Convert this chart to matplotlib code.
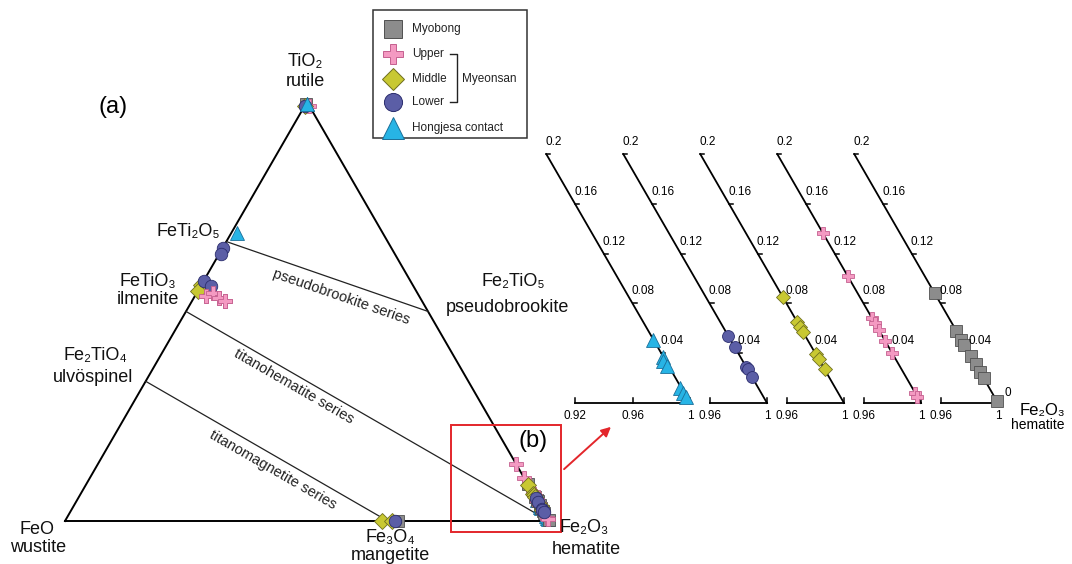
import numpy as np
import matplotlib
matplotlib.use("Agg")
import matplotlib.pyplot as plt
from matplotlib.patches import Rectangle

plt.rcParams['font.family'] = ['Liberation Sans', 'DejaVu Sans']

W, H = 1072, 564
H3 = np.sqrt(3) / 2
PT = 0.72  # points per pixel at 100 dpi

# mole fractions (Fe2O3 = 1 - FeO - TiO2)
myobong_feo = [0.005, 0.312, 0, 0, 0, 0, 0, 0, 0, 0, 0]
myobong_tio2 = [0.995, 0.0, 0.088, 0.058, 0.051, 0.047, 0.038, 0.031, 0.025, 0.020, 0.002]
upper_feo = [0.0, 0.440, 0.422, 0.416, 0.407, 0, 0, 0, 0, 0, 0, 0, 0, 0]
upper_tio2 = [0.990, 0.537, 0.544, 0.532, 0.525, 0.137, 0.102, 0.068, 0.064, 0.059, 0.050, 0.040, 0.008, 0.005]
middle_feo = [0.010, 0.437, 0.451, 0.345, 0.324, 0, 0, 0, 0, 0, 0, 0]
middle_tio2 = [0.990, 0.563, 0.549, 0.0, 0.0, 0.085, 0.065, 0.061, 0.057, 0.039, 0.035, 0.027]
lower_feo = [0.010, 0.348, 0.359, 0.427, 0.418, 0.318, 0, 0, 0, 0, 0]
lower_tio2 = [0.990, 0.652, 0.637, 0.573, 0.561, 0.0, 0.054, 0.045, 0.029, 0.027, 0.021]
hong_feo = [0.003, 0.301, 0.0, 0.0, 0.002, 0.001, 0.001, 0.001, 0.0]
hong_tio2 = [0.995, 0.687, 0.051, 0.037, 0.034, 0.030, 0.012, 0.008, 0.005]

# end members (FeO, TiO2)
endmembers = {
    "FeTi2O5": (1 / 3, 2 / 3),
    "FeTiO3": (0.5, 0.5),
    "Fe2TiO4": (2 / 3, 1 / 3),
    "Fe3O4": (1 / 3, 0.0),
    "Fe2TiO5": (0.0, 0.5),
    "Fe2O3": (0.0, 0.0),
}
series = [("FeTi2O5", "Fe2TiO5"), ("FeTiO3", "Fe2O3"), ("Fe2TiO4", "Fe3O4")]

panel_ticks = [0.04, 0.08, 0.12, 0.16, 0.2]

styles = {
    "Myobong": dict(marker="s", mfc="#8c8c8c", mec="#505050", ms=8.5),
    "Upper": dict(marker="P", mfc="#f49ac2", mec="#c4608f", ms=9.5),
    "Middle": dict(marker="D", mfc="#c8c832", mec="#6e6e1e", ms=8),
    "Lower": dict(marker="o", mfc="#5b5ea6", mec="#2b2d6e", ms=9),
    "Hongjesa contact": dict(marker="^", mfc="#27b4e5", mec="#1b6f99", ms=10.5),
}
# drawing order in the main diagram (first = bottom)
data = {
    "Hongjesa contact": (hong_feo, hong_tio2),
    "Myobong": (myobong_feo, myobong_tio2),
    "Upper": (upper_feo, upper_tio2),
    "Middle": (middle_feo, middle_tio2),
    "Lower": (lower_feo, lower_tio2),
}


def tern(feo, tio2):
    feo = np.asarray(feo, float)
    tio2 = np.asarray(tio2, float)
    fe2o3 = 1 - feo - tio2
    return fe2o3 + tio2 / 2, tio2 * H3


def overlay(fig, scale, ox, oy):
    # axes over the whole figure, unit = `scale` px, origin at pixel (ox, oy)
    ax = fig.add_axes([0, 0, 1, 1])
    ax.set_xlim(-ox / scale, (W - ox) / scale)
    ax.set_ylim(-(H - oy) / scale, oy / scale)
    ax.axis("off")
    ax.patch.set_alpha(0)
    return ax


fig = plt.figure(figsize=(W / 100, H / 100), dpi=100)

# ---- (a) main ternary ----
S = 484
ax = overlay(fig, S, 65, 521)
ax.plot([0, 1, 0.5, 0], [0, 0, H3, 0], color="black", lw=1.4, solid_joinstyle="miter")
for a, b in series:
    x, y = tern([endmembers[a][0], endmembers[b][0]], [endmembers[a][1], endmembers[b][1]])
    ax.plot(x, y, color="#222222", lw=0.9)
for name, (feo, tio2) in data.items():
    x, y = tern(feo, tio2)
    ax.plot(x, y, ls="none", mew=0.6, clip_on=False, **styles[name])
# ilmenite-area crosses and rutile-corner triangle sit on top
x, y = tern(upper_feo[1:5], upper_tio2[1:5])
ax.plot(x, y, ls="none", mew=0.6, clip_on=False, **styles["Upper"])
x, y = tern(hong_feo[:1], hong_tio2[:1])
ax.plot(x, y, ls="none", mew=0.6, clip_on=False, **styles["Hongjesa contact"])

# ---- (b) enlarged Fe2O3 corner panels ----
P = 1437
panel_order = ["Hongjesa contact", "Lower", "Middle", "Upper", "Myobong"]
panel_x = [690, 767, 844, 921, 998]
for i, (name, cx) in enumerate(zip(panel_order, panel_x)):
    pax = overlay(fig, P, cx - P, 403)
    pax.plot([0.9, 1.0], [0.2 * H3, 0], color="black", lw=1.3)
    for t in panel_ticks:
        tx, ty = tern(0, t)
        pax.plot([tx, tx + 4 / P], [ty, ty], color="black", lw=1.1)
        pax.annotate(f"{t:g}", (tx, ty), xytext=(-1 * PT, 12 * PT), textcoords="offset points",
                     ha="left", va="center", fontsize=8.5)
    xmin = 0.92 if i == 0 else 0.96
    pax.plot([xmin, 1.0], [0, 0], color="black", lw=1.3)
    bticks = [0.92, 0.96, 1.0] if i == 0 else [0.96, 1.0]
    for t in bticks:
        pax.plot([t, t], [0, 5 / P], color="black", lw=1.1)
        pax.annotate(f"{t:g}", (t, 0), xytext=(0, -13 * PT), textcoords="offset points",
                     ha="center", va="center", fontsize=8.5)
    feo, tio2 = data[name]
    feo = np.asarray(feo)
    tio2 = np.asarray(tio2)
    keep = (tio2 <= 0.2) & (feo <= 0.1)
    x, y = tern(feo[keep], tio2[keep])
    st = dict(styles[name])
    st["ms"] = st["ms"] * 0.95
    pax.plot(x, y, ls="none", mew=0.6, clip_on=False, **st)
    if i == len(panel_order) - 1:
        pax.annotate("0", (1, 0), xytext=(10 * PT, 10 * PT), textcoords="offset points",
                     ha="center", va="center", fontsize=8.5)

# ---- text, legend, zoom box (pixel coordinates) ----
ov = fig.add_axes([0, 0, 1, 1])
ov.set_xlim(0, W)
ov.set_ylim(H, 0)
ov.axis("off")
ov.patch.set_alpha(0)

lab = dict(fontsize=13, ha="center", va="center", color="#111111")
ov.text(305, 62, "TiO₂", **lab)
ov.text(305, 81, "rutile", **lab)
ov.text(113, 107, "(a)", fontsize=17, ha="center", va="center")
ov.text(220, 232, "FeTi₂O₅", fontsize=13, ha="right", va="center", color="#111111")
ov.text(148, 281, "FeTiO₃", **lab)
ov.text(148, 300, "ilmenite", **lab)
ov.text(95, 356, "Fe₂TiO₄", **lab)
ov.text(93, 377, "ulvöspinel", **lab)
ov.text(37, 529, "FeO", **lab)
ov.text(38, 548, "wustite", **lab)
ov.text(390, 538, "Fe₃O₄", **lab)
ov.text(390, 556, "mangetite", **lab)
ov.text(584, 528, "Fe₂O₃", **lab)
ov.text(586, 549, "hematite", **lab)
ov.text(513, 281, "Fe₂TiO₅", **lab)
ov.text(507, 308, "pseudobrookite", **lab)
ov.text(1042, 410, "Fe₂O₃", fontsize=12, ha="center", va="center")
ov.text(1038, 425, "hematite", fontsize=10, ha="center", va="center")

series_text = [("pseudobrookite series", (341, 297)),
               ("titanohematite series", (294, 386)),
               ("titanomagnetite series", (273, 470))]
for (a, b), (txt, pos) in zip(series, series_text):
    x, y = tern([endmembers[a][0], endmembers[b][0]], [endmembers[a][1], endmembers[b][1]])
    d = ax.transData.transform(np.column_stack([x, y]))
    ang = np.degrees(np.arctan2(d[1, 1] - d[0, 1], d[1, 0] - d[0, 0]))
    ov.text(pos[0], pos[1], txt, rotation=ang, rotation_mode="anchor",
            ha="center", va="center", fontsize=10.5, color="#222222")

red = "#e3262b"
ov.add_patch(Rectangle((451, 425), 110, 107, fill=False, ec=red, lw=1.4))
ov.text(533, 441, "(b)", fontsize=17, ha="center", va="center")
ov.annotate("", xy=(613, 425), xytext=(562, 471),
            arrowprops=dict(arrowstyle="-|>", color=red, lw=1.4, mutation_scale=14))

# legend
ov.add_patch(Rectangle((373, 10), 154, 128, fill=False, ec="#333333", lw=1.1))
leg_names = ["Myobong", "Upper", "Middle", "Lower", "Hongjesa contact"]
leg_y = [29, 54, 79, 102, 128]
for name, yy in zip(leg_names, leg_y):
    st = dict(styles[name])
    st["ms"] = st["ms"] * 1.45
    ov.plot([393], [yy], ls="none", mew=0.7, clip_on=False, **st)
    ov.text(412, yy, name, fontsize=8.5, ha="left", va="center", color="#222222")
ov.plot([450, 457, 457, 450], [54, 54, 102, 102], color="#222222", lw=1)
ov.text(462, 79, "Myeonsan", fontsize=8.5, ha="left", va="center", color="#222222")

fig.savefig("out.png", dpi=100)
